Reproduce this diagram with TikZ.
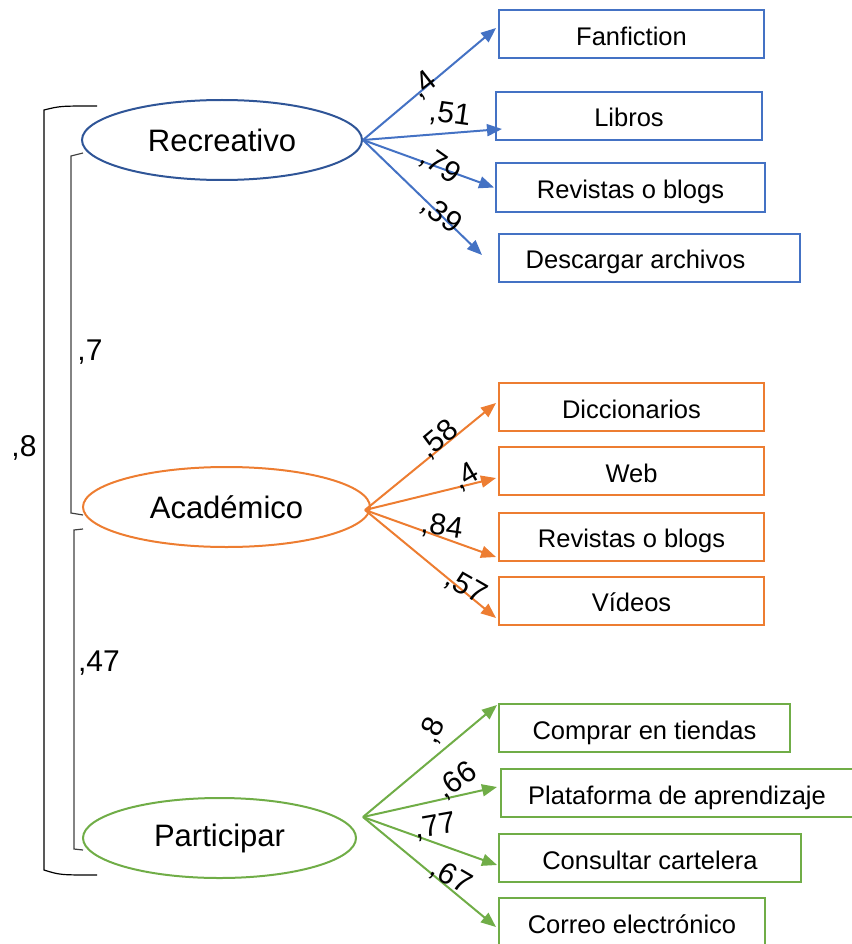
\documentclass[tikz,border=0pt]{standalone}
\usepackage{fontspec}
\setmainfont{Liberation Sans}
\usetikzlibrary{shapes.geometric,arrows.meta}
\definecolor{recblue}{HTML}{2F5597}
\definecolor{boxblue}{HTML}{4472C4}
\definecolor{acorange}{HTML}{ED7D31}
\definecolor{pargreen}{HTML}{70AD47}
\definecolor{bracegray}{HTML}{404040}
\begin{document}
\begin{tikzpicture}[x=1pt,y=-1pt,
    factor/.style={ellipse, draw, line width=2pt, minimum width=#1, minimum height=80pt, inner sep=0pt, font=\fontsize{31}{36}\selectfont},
    item/.style={draw, line width=2pt, minimum width=#1, minimum height=48pt, inner sep=0pt, text height=22pt, text depth=0pt, font=\fontsize{25.5}{30}\selectfont},
    load/.style={line width=2pt, -{Triangle[length=15pt,width=12pt]}},
    coef/.style={inner sep=0pt, font=\fontsize{30}{34}\selectfont},
    brace/.style={line width=1.2pt}]
       \useasboundingbox (0,0) rectangle (851,944);
       \node[factor=280pt, recblue] (rec) at (222,140) {\color{black}Recreativo};
       \node[factor=287pt, acorange] (ac) at (226.5,507) {\color{black}Académico};
       \node[factor=273pt, pargreen] (par) at (219.5,838) {\color{black}Participar};
       \node[item=265pt, boxblue] (fan) at (631.5,34.5) {\color{black}Fanfiction};
       \node[item=266pt, boxblue] (lib) at (629,116) {\color{black}Libros};
       \node[item=269pt, boxblue] (revr) at (630.5,187.5) {\color{black}Revistas o blogs};
       \node[item=301pt, boxblue] (des) at (649.5,257.5) {\color{black}Descargar archivos\hspace*{28pt}};
       \node[item=265pt, acorange] (dic) at (631.5,407) {\color{black}Diccionarios};
       \node[item=265pt, acorange] (web) at (631.5,471) {\color{black}Web};
       \node[item=265pt, acorange] (reva) at (631.5,536.5) {\color{black}Revistas o blogs};
       \node[item=265pt, acorange] (vid) at (631.5,600.5) {\color{black}Vídeos};
       \node[item=291pt, pargreen] (com) at (644.5,728) {\color{black}Comprar en tiendas};
       \node[item=352pt, pargreen] (pla) at (677,793) {\color{black}Plataforma de aprendizaje};
       \node[item=302pt, pargreen] (con) at (650,858) {\color{black}Consultar cartelera};
       \node[item=266pt, pargreen] (cor) at (632,922) {\color{black}Correo electrónico};
       \draw[load, boxblue] (rec.east) -- ([xshift=-2pt, yshift=6.5pt]fan.west);
       \draw[load, boxblue] (rec.east) -- ([xshift=7pt, yshift=-13pt]lib.west);
       \draw[load, boxblue] (rec.east) -- ([xshift=-1pt]revr.west);
       \draw[load, boxblue] (rec.east) -- ([xshift=-16pt, yshift=2.5pt]des.west);
       \draw[load, acorange] ([xshift=-6pt, yshift=-3pt]ac.east) -- ([xshift=-2pt, yshift=4pt]dic.west);
       \draw[load, acorange] ([xshift=-6pt, yshift=-3pt]ac.east) -- ([xshift=-2pt, yshift=-7pt]web.west);
       \draw[load, acorange] ([xshift=-6pt, yshift=-3pt]ac.east) -- ([xshift=-2pt, yshift=-20.5pt]reva.west);
       \draw[load, acorange] ([xshift=-6pt, yshift=-3pt]ac.east) -- ([xshift=-2pt, yshift=-17.5pt]vid.west);
       \draw[load, pargreen] ([xshift=6pt, yshift=21pt]par.east) -- ([xshift=-1pt, yshift=23pt]com.west);
       \draw[load, pargreen] ([xshift=6pt, yshift=21pt]par.east) -- ([xshift=-3pt, yshift=6pt]pla.west);
       \draw[load, pargreen] ([xshift=6pt, yshift=21pt]par.east) -- ([xshift=-1pt, yshift=-7pt]con.west);
       \draw[load, pargreen] ([xshift=6pt, yshift=21pt]par.east) -- ([xshift=-2pt, yshift=-5pt]cor.west);
       \node[coef, rotate=38] (lfan) at (424,85) {,4};
       \node[coef, rotate=-8] (llib) at (450,115) {,51};
       \node[coef, rotate=-35] (lrevr) at (440,166) {,79};
       \node[coef, rotate=-38] (ldes) at (441,215) {,39};
       \node[coef, rotate=40] (ldic) at (439,440) {,58};
       \node[coef, rotate=30] (lweb) at (466,477) {,4};
       \node[coef, rotate=-8] (lreva) at (442,527) {,84};
       \node[coef, rotate=-30] (lvid) at (466,587) {,57};
       \node[coef, rotate=65] (lcom) at (433,731) {,8};
       \node[coef, rotate=35] (lpla) at (457,781) {,66};
       \node[coef, rotate=10] (lcon) at (435,827) {,77};
       \node[coef, rotate=-30] (lcor) at (451,877) {,67};
       \draw[brace, black] (97,106) .. controls (60,106) .. (44,110) -- (44,870) .. controls (60,875) .. (97,875);
       \draw[brace, bracegray] (83,153) -- (71,156) -- (71,513) -- (83,515);
       \draw[brace, bracegray] (83,529) -- (74,530) -- (74,849) -- (83,850);
       \node[coef] (lrecpar) at (24,448) {,8};
       \node[coef] (lrecac) at (90,352) {,7};
       \node[coef] (lacpar) at (99,663) {,47};
\end{tikzpicture}
\end{document}
